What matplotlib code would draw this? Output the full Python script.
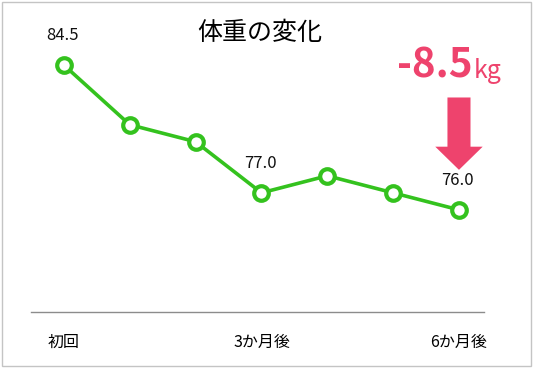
import matplotlib
matplotlib.use("Agg")
import matplotlib.pyplot as plt
import matplotlib.patches as mpatches

plt.rcParams['font.family'] = ['Noto Sans CJK JP', 'DejaVu Sans']

# data
weights = [84.5, 81.0, 80.0, 77.0, 78.0, 77.0, 76.0]
tick_pos = [0, 3, 6]
tick_labels = ['初回', '3か月後', '6か月後']
label_idx = [0, 3, 6]
change_text = '-8.5'

green = '#34C21E'
pink = '#EE436D'

fig = plt.figure(figsize=(5.33, 3.68), dpi=100)
ax = fig.add_axes([31/533, 56/368, 453/533, (312 - 39.6)/368])

x = list(range(len(weights)))
ax.plot(x, weights, color=green, lw=2.6, marker='o', ms=10.5,
        mfc='white', mec=green, mew=3.0, zorder=3, clip_on=False)

for i in label_idx:
    ax.annotate(f'{weights[i]:.1f}', (x[i], weights[i]), xytext=(-1, 21),
                textcoords='offset points', ha='center', va='center',
                fontsize=12, color='#111111')

ax.set_xlim(-0.5, 6.38)
ax.set_ylim(70, 86)
ax.set_xticks(tick_pos)
ax.set_xticklabels(tick_labels, fontsize=11.5)
ax.tick_params(axis='x', length=0, pad=16)
ax.set_yticks([])
for s in ['left', 'right', 'top']:
    ax.spines[s].set_visible(False)
ax.spines['bottom'].set_color('#8C8C8C')
ax.spines['bottom'].set_linewidth(1)

# down arrow over the last point
arr = mpatches.FancyArrow(6, 82.6, 0, -4.25, width=0.35, head_width=0.72,
                          head_length=1.36, length_includes_head=True,
                          color=pink, lw=0, clip_on=False)
ax.add_patch(arr)

fig.text(260/533, 1 - 33/368, '体重の変化', ha='center', va='center', fontsize=18)
fig.text(473/533, 1 - 78/368, change_text, ha='right', va='baseline',
         fontsize=29, fontweight='bold', color=pink)
fig.text(474/533, 1 - 78/368, 'kg', ha='left', va='baseline',
         fontsize=18, color=pink)

fig.patches.append(mpatches.Rectangle((1.5/533, 2/368), 529/533, 364/368,
                                      transform=fig.transFigure, fill=False,
                                      edgecolor='#C4C4C4', lw=1))

fig.savefig('out.png', dpi=100)
